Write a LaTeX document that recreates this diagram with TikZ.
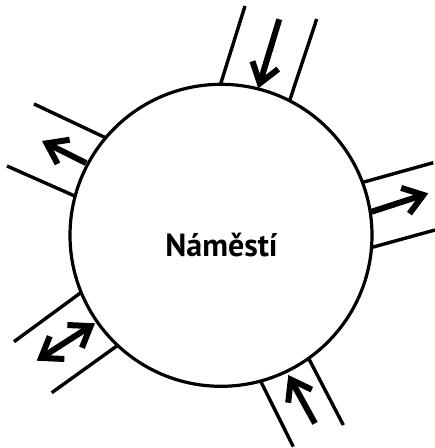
\documentclass[tikz,border=0pt]{standalone}
\usepackage{fontspec}
\setmainfont{PT Sans}
\usetikzlibrary{arrows.meta,calc}
\begin{document}
\begin{tikzpicture}[x=1pt,y=-1pt,
  road/.style={line width=3.4pt,line cap=butt},
  flow/.style={line width=6pt,-{Straight Barb[length=19pt,width=27pt]}},
  flowboth/.style={line width=6pt,{Straight Barb[length=19pt,width=27pt]}-{Straight Barb[length=19pt,width=27pt]}}]
\useasboundingbox (0,0) rectangle (435,448);
% road edges (extended inward, hidden by the square)
\foreach \ox/\oy/\ix/\iy in {
  245/6/221/82.7, 316.7/19/290.7/97.3,
  34/104/104/137, 7/166/77/197,
  433.3/162.7/365/181.7, 435/230/370.7/247.7,
  14/341.7/79/294, 51.7/392.7/115/347.3,
  293.3/446.7/261.7/383.3, 343.3/425/310/361}
  \draw[road] (\ox,\oy) -- ($(\ix,\iy)!-15pt!(\ox,\oy)$);
% the square
\node[circle, draw, fill=white, line width=3.2pt, minimum size=302pt, inner sep=0pt] (sq) at (221,235.3) {};
\node[font=\bfseries\fontsize{32}{32}\selectfont, anchor=base, inner sep=0pt] (label) at (221.5,256.8) {Náměstí};
% flow arrows
\coordinate (tA) at (279.3,19.3);  \coordinate (hA) at (258.3,88.3);
\coordinate (tB) at (86,163);      \coordinate (hB) at (42,141);
\coordinate (tC) at (371.7,211.7); \coordinate (hC) at (428.3,193.3);
\coordinate (tD) at (95,323.3);    \coordinate (hD) at (36.7,360.7);
\coordinate (tE) at (315,423.3);   \coordinate (hE) at (288.3,375);
\draw[flow] (tA) -- (hA);
\draw[flow] (tB) -- (hB);
\draw[flow] (tC) -- (hC);
\draw[flowboth] (tD) -- (hD);
\draw[flow] (tE) -- (hE);
\end{tikzpicture}
\end{document}
